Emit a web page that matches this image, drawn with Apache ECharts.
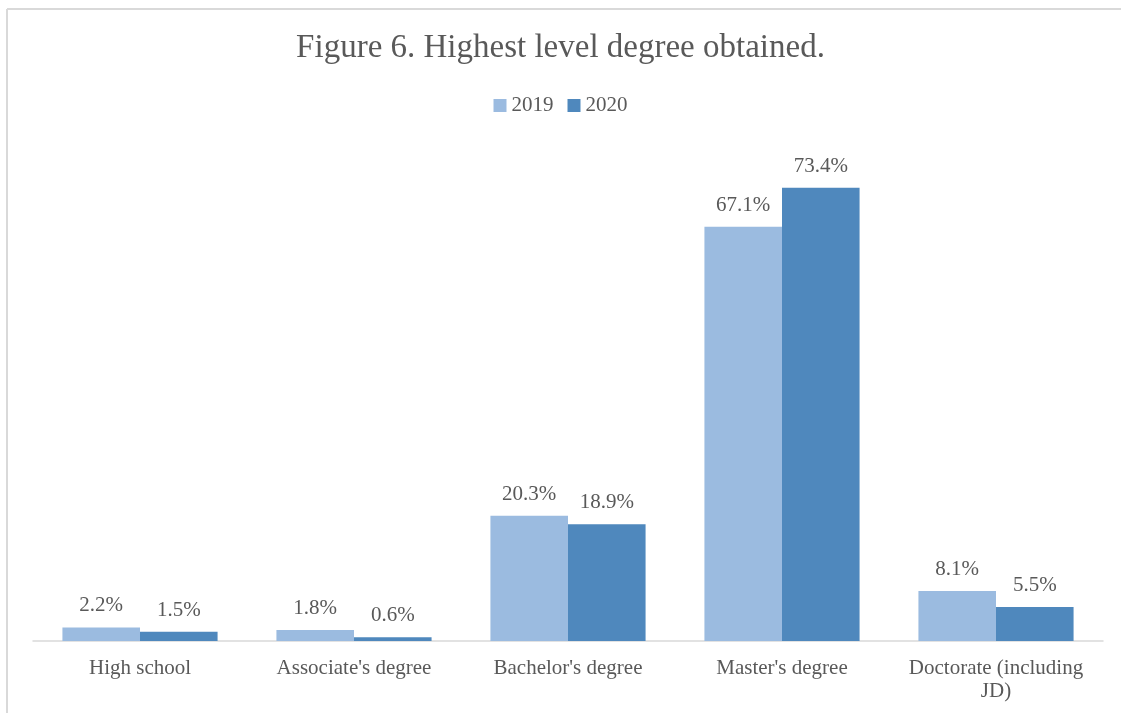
<!DOCTYPE html>
<html>
<head>
<meta charset="utf-8">
<script src="https://cdn.jsdelivr.net/npm/echarts@6/dist/echarts.min.js"></script>
<style>
  html, body { margin: 0; padding: 0; background: #fff; overflow: hidden; }
  #chart { width: 1121px; height: 713px; }
</style>
</head>
<body>
<div id="chart"></div>
<script>
const categories = ['High school', "Associate's degree", "Bachelor's degree", "Master's degree", 'Doctorate (including\nJD)']
const values2019 = [2.2, 1.8, 20.3, 67.1, 8.1]
const values2020 = [1.5, 0.6, 18.9, 73.4, 5.5]

const FONT = '"Liberation Serif", "Times New Roman", serif'
const TEXT = '#595959'

const chart = echarts.init(document.getElementById('chart'))

const label = {
  show: true,
  position: 'top',
  distance: 11,
  formatter: p => p.value.toFixed(1) + '%',
  fontFamily: FONT,
  fontSize: 21,
  color: TEXT
}

// 左上角的浅灰边框（右、下两边在截图外）
const frame = { stroke: '#d9d9d9', lineWidth: 2 }

chart.setOption({
  animation: false,
  title: {
    text: 'Figure 6. Highest level degree obtained.',
    left: 'center',
    top: 27,
    textStyle: { fontFamily: FONT, fontSize: 33, fontWeight: 'normal', color: TEXT }
  },
  legend: {
    top: 90,
    left: 'center',
    itemWidth: 13,
    itemHeight: 13,
    itemGap: 14,
    icon: 'rect',
    textStyle: { fontFamily: FONT, fontSize: 21, color: TEXT }
  },
  graphic: [
    { type: 'line', shape: { x1: 7, y1: 9, x2: 1121, y2: 9 }, style: frame, silent: true },
    { type: 'line', shape: { x1: 7, y1: 9, x2: 7, y2: 713 }, style: frame, silent: true }
  ],
  grid: { left: 33, right: 18, top: 147, bottom: 72 },
  xAxis: {
    type: 'category',
    data: categories,
    axisLine: { lineStyle: { color: '#d9d9d9', width: 1.5 } },
    axisTick: { show: false },
    axisLabel: { interval: 0, fontFamily: FONT, fontSize: 21, color: TEXT, margin: 16, lineHeight: 23 }
  },
  yAxis: {
    type: 'value',
    min: 0,
    max: 80,
    show: false,
    splitLine: { show: false }
  },
  series: [
    {
      name: '2019',
      type: 'bar',
      data: values2019,
      barGap: '0%',
      barCategoryGap: '27.5%',
      itemStyle: { color: '#9BBBE0' },
      label: label
    },
    {
      name: '2020',
      type: 'bar',
      data: values2020,
      itemStyle: { color: '#4F88BD' },
      label: label
    }
  ]
})
</script>
</body>
</html>
